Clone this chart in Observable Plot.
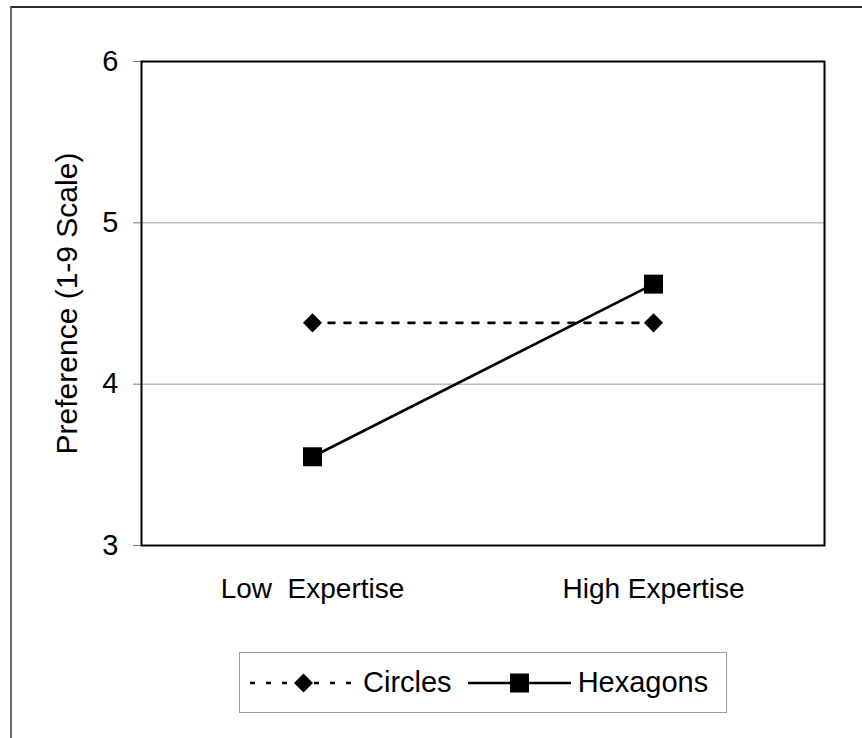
<!DOCTYPE html>
<html>
<head>
<meta charset="utf-8">
<script src="https://cdn.jsdelivr.net/npm/d3@7"></script>
<script src="https://cdn.jsdelivr.net/npm/@observablehq/plot@0.6"></script>
<style>
  html, body { margin: 0; padding: 0; background: white; }
  #wrap { position: relative; width: 862px; height: 738px; overflow: hidden; font-family: "Liberation Sans", Arial, sans-serif; }
  #outer { position: absolute; left: 10px; top: 6px; width: 852px; height: 732px; border-top: 2px solid #2a2a2a; border-left: 2px solid #6b6b6b; box-sizing: border-box; }
  #chart { position: absolute; left: 0; top: 0; }
  #chart svg text { white-space: pre; }
  #legend { position: absolute; left: 239px; top: 652px; width: 488px; height: 61px; box-sizing: border-box; border: 1px solid #9a9a9a; display: flex; align-items: center; font-size: 29px; color: #000; }
  #legend .item { display: flex; align-items: center; }
  #legend svg { display: block; }
</style>
</head>
<body>
<div id="wrap">
  <div id="outer"></div>
  <div id="chart"></div>
  <div id="legend"></div>
</div>
<script>
// ---- data ----
const groups = ["Low Expertise", "High Expertise"];
const xTickLabels = ["Low  Expertise", "High Expertise"];
const circles = [4.38, 4.38];
const hexagons = [3.55, 4.62];
const seriesNames = ["Circles", "Hexagons"];
const yTicks = [3, 4, 5, 6];
const gridTicks = [4, 5];
const yLabel = "Preference (1-9 Scale)";

const rows = [];
groups.forEach((g, i) => {
  rows.push({group: g, series: "Circles", value: circles[i]});
  rows.push({group: g, series: "Hexagons", value: hexagons[i]});
});
const circleRows = rows.filter(d => d.series === "Circles");
const hexRows = rows.filter(d => d.series === "Hexagons");

const chart = Plot.plot({
  width: 862,
  height: 630,
  marginLeft: 141,
  marginRight: 38,
  marginTop: 61,
  marginBottom: 85,
  style: {fontFamily: "'Liberation Sans', Arial, sans-serif", fontSize: "28px", background: "transparent", color: "#000", overflow: "visible"},
  x: {type: "point", domain: groups, padding: 0.5, axis: null},
  y: {domain: [3, 6], axis: null},
  marks: [
    Plot.gridY({ticks: gridTicks, stroke: "#9a9a9a", strokeOpacity: 1, strokeWidth: 1}),
    Plot.axisY({ticks: yTicks, tickFormat: d3.format("d"), tickSize: 8, tickPadding: 15, stroke: "#777", fontSize: 29, label: null}),
    Plot.axisY({ticks: [], tickSize: 0, fontSize: 30,
      label: yLabel, labelAnchor: "center", labelArrow: "none", labelOffset: 86, dy: 3}),
    Plot.axisX({tickSize: 0, tickPadding: 33, fontSize: 28, label: null,
      tickFormat: d => xTickLabels[groups.indexOf(d)]}),
    Plot.frame({stroke: "#000", strokeWidth: 2}),
    Plot.line(circleRows, {x: "group", y: "value", stroke: "#000", strokeWidth: 2.6, strokeDasharray: "6,10"}),
    Plot.line(hexRows, {x: "group", y: "value", stroke: "#000", strokeWidth: 2.6}),
    Plot.dot(circleRows, {x: "group", y: "value", symbol: "diamond2", r: 8.6, fill: "#000", stroke: "none"}),
    Plot.dot(hexRows, {x: "group", y: "value", symbol: "square", r: 10.7, fill: "#000", stroke: "none"})
  ]
});
document.getElementById("chart").appendChild(chart);

// ---- legend ----
const ns = "http://www.w3.org/2000/svg";
const legendStyles = [
  {dash: "5,11", symbol: d3.symbolDiamond2, size: 230, w: 107, ml: 10, gapText: 6},
  {dash: null, symbol: d3.symbolSquare, size: 361, w: 103, ml: 16, gapText: 7}
];
const legend = document.getElementById("legend");
seriesNames.forEach((name, i) => {
  const st = legendStyles[i];
  const item = document.createElement("div");
  item.className = "item";
  item.style.marginLeft = st.ml + "px";
  const svg = document.createElementNS(ns, "svg");
  svg.setAttribute("width", st.w);
  svg.setAttribute("height", 24);
  const line = document.createElementNS(ns, "line");
  line.setAttribute("x1", 0); line.setAttribute("x2", st.w);
  line.setAttribute("y1", 12); line.setAttribute("y2", 12);
  line.setAttribute("stroke", "#000");
  line.setAttribute("stroke-width", 2.6);
  if (st.dash) line.setAttribute("stroke-dasharray", st.dash);
  svg.appendChild(line);
  const p = document.createElementNS(ns, "path");
  p.setAttribute("d", d3.symbol(st.symbol, st.size)());
  p.setAttribute("transform", `translate(${st.w / 2},12)`);
  p.setAttribute("fill", "#000");
  svg.appendChild(p);
  item.appendChild(svg);
  const t = document.createElement("span");
  t.textContent = name;
  t.style.marginLeft = st.gapText + "px";
  item.appendChild(t);
  legend.appendChild(item);
});
</script>
</body>
</html>
